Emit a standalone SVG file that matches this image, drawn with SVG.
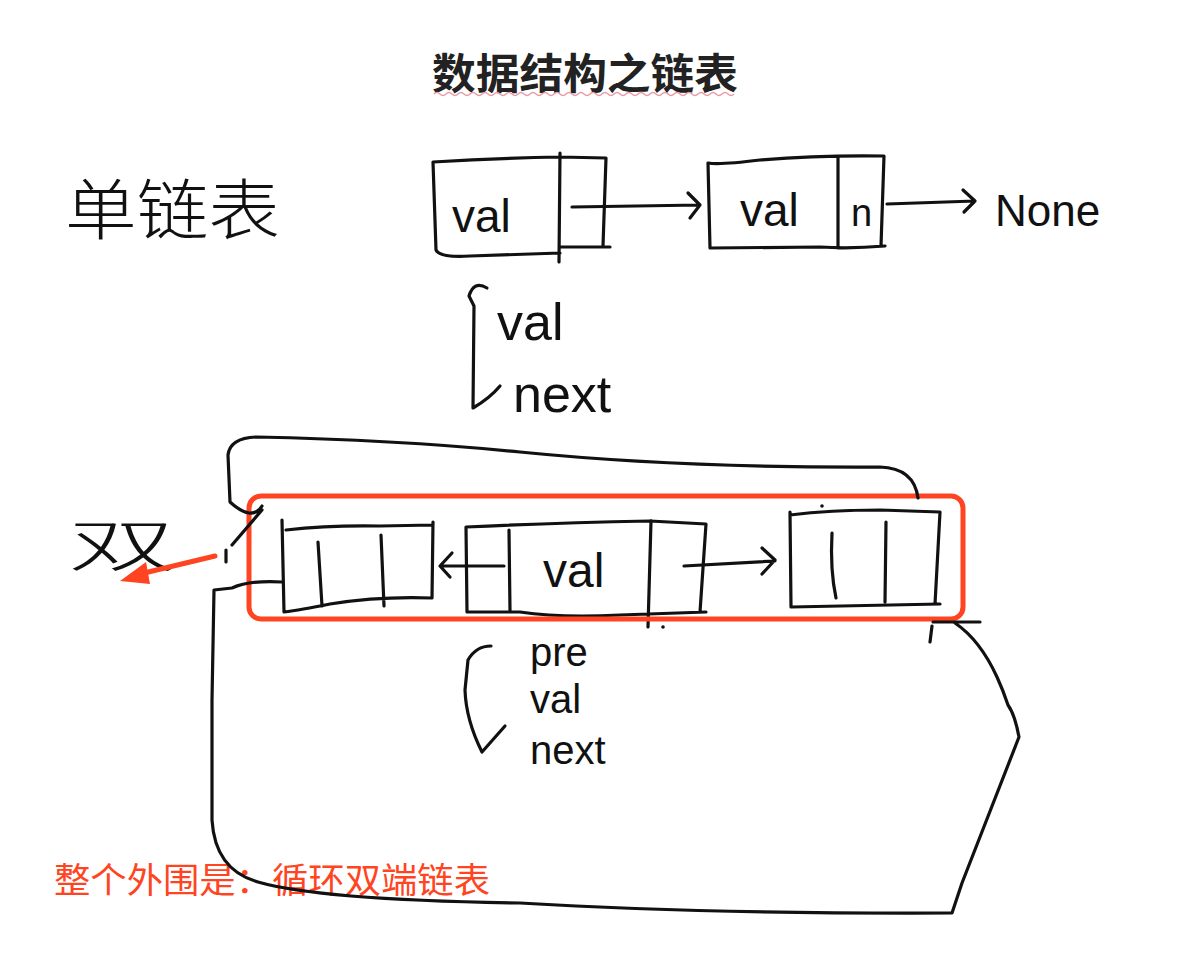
<svg xmlns="http://www.w3.org/2000/svg" width="1178" height="962" viewBox="0 0 1178 962">
<style>
.ink{fill:none;stroke:#111;stroke-width:3.2;stroke-linecap:round;stroke-linejoin:round}
.hand{font-family:"Liberation Sans","DejaVu Sans",sans-serif;fill:#111}
.cjk{font-family:"Noto Sans CJK SC",sans-serif}
.red{fill:#ff4422}
</style>
<rect width="1178" height="962" fill="#fff"/>
<g id="title">
<text x="585" y="89" text-anchor="middle" class="cjk" font-size="42" font-weight="bold" fill="#222" textLength="306" lengthAdjust="spacingAndGlyphs">数据结构之链表</text>
<path d="M434 94 q3 -3 6 0 t6 0 t6 0 t6 0 t6 0 t6 0 t6 0 t6 0 t6 0 t6 0 t6 0 t6 0 t6 0 t6 0 t6 0 t6 0 t6 0 t6 0 t6 0 t6 0 t6 0 t6 0 t6 0 t6 0 t6 0 t6 0 t6 0 t6 0 t6 0 t6 0 t6 0 t6 0 t6 0 t6 0 t6 0 t6 0 t6 0 t6 0 t6 0 t6 0 t6 0 t6 0 t6 0 t6 0 t6 0 t6 0 t6 0 t6 0 t6 0 t6 0" fill="none" stroke="#e89aa6" stroke-width="1.5"/>
</g>
<g id="label-single">
<text x="65" y="234" class="cjk" font-size="66" font-weight="300" fill="#111" textLength="215" lengthAdjust="spacingAndGlyphs">单链表</text>
</g>
<g id="node-s1">
<path class="ink" d="M433 162 Q500 158 560 157 L606 158 M433 162 L436 250 Q440 258 470 256 L560 253 M560 153 L559 262 M606 158 L603 246 M560 247 L610 247"/>
<text x="452" y="232" class="hand" font-size="46">val</text>
</g>
<g id="node-s2">
<path class="ink" d="M708 163 Q720 165 760 160 Q820 155 884 156 M708 163 L710 248 L820 247 Q850 249 885 246 M838 157 L838 248 M884 156 L881 246"/>
<text x="740" y="226" class="hand" font-size="46">val</text>
<text x="851" y="226" class="hand" font-size="38">n</text>
</g>
<g id="none-label">
<text x="995" y="226" class="hand" font-size="44">None</text>
</g>
<g id="brace-single">
<path class="ink" d="M487 288 Q474 280 469 296 L474 306 L473 408 Q490 398 500 386"/>
<text x="497" y="340" class="hand" font-size="52">val</text>
<text x="513" y="412" class="hand" font-size="52">next</text>
</g>
<g id="label-double">
<text x="68" y="566" class="cjk" font-size="56" font-weight="300" fill="#111" textLength="108" lengthAdjust="spacingAndGlyphs">双</text>
</g>
<g id="node-d1">
<path class="ink" d="M282 520 L284 612 Q300 610 330 604 Q380 596 432 598 M286 530 Q330 525 380 526 L433 525 M433 522 L432 598 M318 542 L322 606 M381 535 L384 606"/>
</g>
<g id="node-d2">
<path class="ink" d="M466 527 L467 612 L520 612 Q560 618 620 615 L706 612 M466 527 Q550 523 650 521 L706 524 M509 530 L510 611 M651 521 L648 627 M706 524 L700 612"/>
<text x="543" y="587" class="hand" font-size="48">val</text>
</g>
<g id="node-d3">
<path class="ink" d="M790 512 L791 607 L940 604 M790 515 Q830 510 880 510 L940 512 M940 512 L935 604 M832 533 Q830 570 836 598 M886 522 L885 602"/>
</g>
<g id="red-box">
<rect x="249" y="496" width="714" height="123" rx="12" fill="none" stroke="#ff4422" stroke-width="5"/>
</g>
<g id="outer-note">
<text x="54" y="893" class="cjk red" font-size="35" textLength="436" lengthAdjust="spacingAndGlyphs">整个外围是：循环双端链表</text>
</g>
<g id="connectors">
<path class="ink" d="M572 207 L700 205 M688 193 L700 205 L690 218"/>
<path class="ink" d="M887 204 L975 201 M963 190 L975 201 L964 212"/>
<path class="ink" d="M504 566 L442 566 M452 553 L440 566 L450 577"/>
<path class="ink" d="M684 566 L775 561 M762 548 L775 560 L762 574"/>
<path class="ink" stroke-width="2.8" d="M262 506 Q252 522 230 502 L228 455 Q230 438 256 437 Q400 440 520 452 Q680 468 880 467 Q914 468 918 498 M262 510 L232 545 M226 550 L226 562"/>
<path class="ink" stroke-width="2.8" d="M282 582 Q250 580 232 588 L214 590 L212 700 L212 820 Q215 870 258 882 Q320 900 520 903 Q700 914 952 913 L962 883 L1019 737 Q1015 715 1008 705 Q1003 690 997 677 Q980 640 955 623 M933 622 L980 622 M932 626 L930 642"/>
<path d="M215 556 L140 574" stroke="#ff4422" stroke-width="5" stroke-linecap="round" fill="none"/>
<polygon points="120,581 146,562 150,584" fill="#ff4422"/>
<circle cx="822" cy="506" r="1.8" fill="#111"/>
<circle cx="663" cy="627" r="1.8" fill="#111"/>
</g>
<g id="brace-double">
<path class="ink" d="M491 646 Q476 646 468 660 L465 690 Q466 720 482 752 L505 726"/>
<text x="530" y="666" class="hand" font-size="40">pre</text>
<text x="530" y="713" class="hand" font-size="40">val</text>
<text x="530" y="764" class="hand" font-size="40">next</text>
</g>
</svg>
